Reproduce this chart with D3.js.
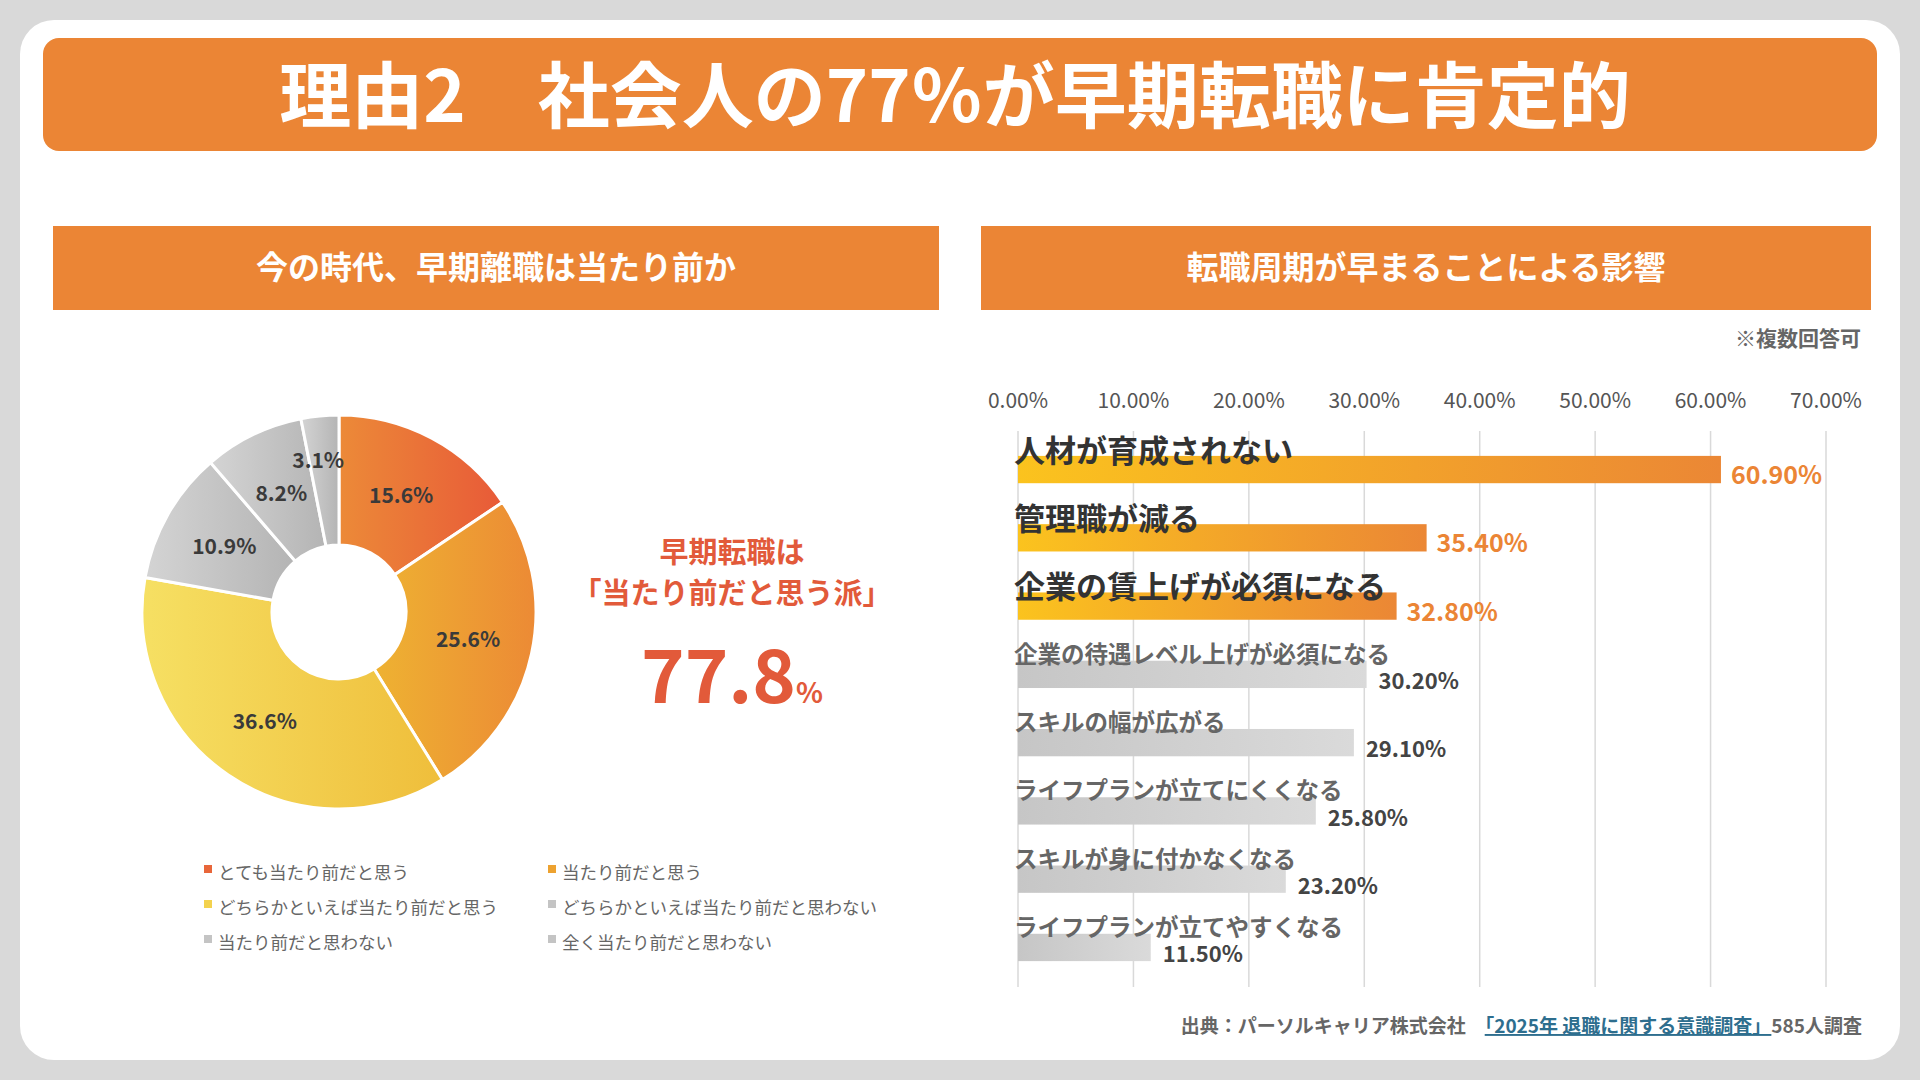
<!DOCTYPE html>
<html><head><meta charset="utf-8">
<script src="https://cdn.jsdelivr.net/npm/d3@7"></script>
<style>body{margin:0;background:#d9d9d9;}svg{display:block;font-family:"Noto Sans CJK JP","Noto Sans",sans-serif;}</style>
</head><body><svg id="c" width="1920" height="1080"></svg>
<script>
const pieLabels = ["とても当たり前だと思う","当たり前だと思う","どちらかといえば当たり前だと思う","どちらかといえば当たり前だと思わない","当たり前だと思わない","全く当たり前だと思わない"];
const pieValues = [15.6, 25.6, 36.6, 10.9, 8.2, 3.1];
const barCategories = ["人材が育成されない","管理職が減る","企業の賃上げが必須になる","企業の待遇レベル上げが必須になる","スキルの幅が広がる","ライフプランが立てにくくなる","スキルが身に付かなくなる","ライフプランが立てやすくなる"];
const barValues = [60.9, 35.4, 32.8, 30.2, 29.1, 25.8, 23.2, 11.5];
const xTicks = [0,10,20,30,40,50,60,70];

const svg = d3.select("#c");
const defs = svg.append("defs");
function grad(id, c1, c2){
  const g = defs.append("linearGradient").attr("id",id).attr("x1","0").attr("x2","1").attr("y1","0").attr("y2","0");
  g.append("stop").attr("offset","0").attr("stop-color",c1);
  g.append("stop").attr("offset","1").attr("stop-color",c2);
}
grad("g0","#EC8A38","#E85A38");
grad("g1","#EEB232","#EC8A35");
grad("g2","#F6E063","#EFBE3B");
grad("g3","#D4D4D4","#B4B4B4");
grad("g4","#D4D4D4","#B4B4B4");
grad("g5","#D4D4D4","#B4B4B4");
grad("bo","#FBC31E","#EB8735");
grad("bg","#C6C6C6","#DADADA");
const orange = "#EB8535";

svg.append("rect").attr("x",20).attr("y",20).attr("width",1880).attr("height",1040).attr("rx",34).attr("fill","#fff");
svg.append("rect").attr("x",43).attr("y",38).attr("width",1834).attr("height",113).attr("rx",16).attr("fill",orange);
svg.append("text").attr("x",955).attr("y",122).attr("text-anchor","middle").attr("fill","#fff").attr("font-size",72).attr("font-weight",700).text("理由2　社会人の77％が早期転職に肯定的");

svg.append("rect").attr("x",53).attr("y",226).attr("width",886).attr("height",84).attr("fill",orange);
svg.append("text").attr("x",496).attr("y",279).attr("text-anchor","middle").attr("fill","#fff").attr("font-size",32).attr("font-weight",700).text("今の時代、早期離職は当たり前か");
svg.append("rect").attr("x",981).attr("y",226).attr("width",890).attr("height",84).attr("fill",orange);
svg.append("text").attr("x",1426).attr("y",279).attr("text-anchor","middle").attr("fill","#fff").attr("font-size",32).attr("font-weight",700).text("転職周期が早まることによる影響");

// Pie
const cx=339, cy=612, R=197, r0=67;
const pie = d3.pie().sort(null).value(d=>d)(pieValues);
const arc = d3.arc().innerRadius(r0).outerRadius(R);
const pg = svg.append("g").attr("transform",`translate(${cx},${cy})`);
pg.selectAll("path").data(pie).join("path").attr("d",arc).attr("fill",(d,i)=>`url(#g${i})`).attr("stroke","#fff").attr("stroke-width",3);
pg.selectAll("text").data(pie).join("text").attr("transform",d=>{const c=arc.centroid(d);return d.index===5?`translate(${c[0]-8},${c[1]-20})`:`translate(${c})`;})
 .attr("text-anchor","middle").attr("dy","0.35em").attr("font-size",21).attr("font-weight",700).attr("fill","#3a3a3a").text(d=>d.data.toFixed(1)+"%");

svg.append("text").attr("x",732).attr("y",563).attr("text-anchor","middle").attr("fill","#E25A3A").attr("font-size",29).attr("font-weight",700).text("早期転職は");
svg.append("text").attr("x",732).attr("y",604).attr("text-anchor","middle").attr("fill","#E25A3A").attr("font-size",29).attr("font-weight",700).text("「当たり前だと思う派」");
const big = svg.append("text").attr("x",732).attr("y",703).attr("text-anchor","middle").attr("fill","#E25A3A").attr("font-weight",700);
big.append("tspan").attr("font-size",74).text("77.8");
big.append("tspan").attr("font-size",28).text("%");

const legCols=["#E8663A","#EDA230","#F3D24E","#C4C4C4","#C4C4C4","#C4C4C4"];
pieLabels.forEach((l,i)=>{
  const x = i%2===0?204:548, y = 871+Math.floor(i/2)*35;
  svg.append("rect").attr("x",x).attr("y",y-6).attr("width",8).attr("height",8).attr("fill",legCols[i]);
  svg.append("text").attr("x",x+14).attr("y",y+3).attr("font-size",17.5).attr("fill","#666").attr("dominant-baseline","middle").text(l);
});

// Bars
const x = d3.scaleLinear().domain([0,70]).range([1018,1826]);
const y = d3.scaleBand().domain(barCategories).range([432,985]).paddingInner(0.6).paddingOuter(0.35);
svg.append("g").selectAll("line").data(xTicks).join("line").attr("x1",d=>x(d)).attr("x2",d=>x(d)).attr("y1",431).attr("y2",987).attr("stroke","#d9d9d9").attr("stroke-width",1.5);
svg.append("g").selectAll("text").data(xTicks).join("text").attr("x",d=>x(d)).attr("y",408).attr("text-anchor","middle").attr("font-size",21).attr("fill","#555").text(d=>d.toFixed(2)+"%");
barCategories.forEach((c,i)=>{
  const top = i<3, by=y(c), bh=y.bandwidth();
  svg.append("rect").attr("x",x(0)).attr("y",by).attr("width",x(barValues[i])-x(0)).attr("height",bh).attr("fill",top?"url(#bo)":"url(#bg)");
  svg.append("text").attr("x",x(0)-4).attr("y",by+(top?6:2)).attr("font-size",top?31:23.5).attr("font-weight",700).attr("fill",top?"#333":"#666").text(c);
  svg.append("text").attr("x",x(barValues[i])+(top?10:12)).attr("y",by+bh+1).attr("font-size",top?25:22).attr("font-weight",700).attr("fill",top?orange:"#444").text(barValues[i].toFixed(2)+"%");
});
svg.append("text").attr("x",1861).attr("y",346).attr("text-anchor","end").attr("font-size",21).attr("font-weight",700).attr("fill","#666").text("※複数回答可");

const ft = svg.append("text").attr("x",1862).attr("y",1033).attr("text-anchor","end").attr("font-size",19).attr("font-weight",700).attr("fill","#666");
ft.append("tspan").text("出典：パーソルキャリア株式会社　");
ft.append("tspan").attr("fill","#2E6E8E").attr("text-decoration","underline").text("「2025年 退職に関する意識調査」");
ft.append("tspan").text("585人調査");
</script></body></html>
